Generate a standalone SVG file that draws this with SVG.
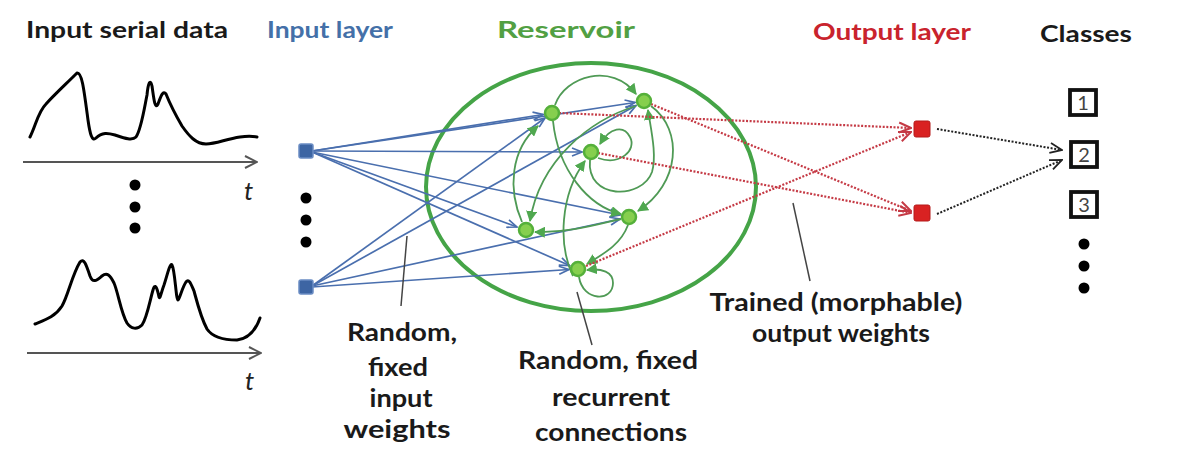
<svg xmlns="http://www.w3.org/2000/svg" width="1188" height="468" viewBox="0 0 1188 468">
<style>
.lbl{font-family:Lato,"Liberation Sans",sans-serif;font-weight:700;fill:#1a1a1a}
.hdr{font-family:Lato,"Liberation Sans",sans-serif;font-weight:700;font-size:23px}
.ax{stroke:#555;stroke-width:2;fill:none}
.wave{stroke:#000;stroke-width:3;fill:none;stroke-linecap:round;stroke-linejoin:round}
.blue{stroke:#4a6fae;stroke-width:1.7;fill:none}
.grn{stroke:#4f9a55;stroke-width:1.8;fill:none}
.red{stroke:#c53a45;stroke-width:2.2;fill:none;stroke-dasharray:2 1.6}
.blk{stroke:#222;stroke-width:2;fill:none;stroke-dasharray:2 1.6}
.ptr{stroke:#444;stroke-width:1.5}
.rn{fill:#86cf4e;stroke:#55b03a;stroke-width:2.5}
.dot{fill:#000}
.cls rect{fill:#fff;stroke:#111;stroke-width:3.8}
.cls text{font-family:Lato,"Liberation Sans",sans-serif;font-size:20px;fill:#444;text-anchor:middle}
</style>
<defs>
<marker id="mb" viewBox="0 0 12 10" refX="11" refY="5" markerWidth="12" markerHeight="10" markerUnits="userSpaceOnUse" orient="auto"><path d="M1,1 L11,5 L1,9" fill="none" stroke="#4a6fae" stroke-width="1.7"/></marker>
<marker id="mg" viewBox="0 0 10 10" refX="9" refY="5" markerWidth="11" markerHeight="11" markerUnits="userSpaceOnUse" orient="auto"><path d="M0,0 L10,5 L0,10 Z" fill="#4fa84f"/></marker>
<marker id="mr" viewBox="0 0 14 12" refX="13" refY="6" markerWidth="14" markerHeight="12" markerUnits="userSpaceOnUse" orient="auto"><path d="M1,1 L13,6 L1,11" fill="none" stroke="#c53a45" stroke-width="2"/></marker>
<marker id="mk" viewBox="0 0 14 12" refX="13" refY="6" markerWidth="14" markerHeight="12" markerUnits="userSpaceOnUse" orient="auto"><path d="M1,1 L13,6 L1,11" fill="none" stroke="#222" stroke-width="1.8"/></marker>
<marker id="ma" viewBox="0 0 14 14" refX="13" refY="7" markerWidth="14" markerHeight="14" markerUnits="userSpaceOnUse" orient="auto"><path d="M1,1 L13,7 L1,13" fill="none" stroke="#555" stroke-width="2"/></marker>
</defs>
<rect width="1188" height="468" fill="#fff"/>

<g id="headers">
<text class="hdr" x="26" y="38" fill="#1a1a1a" textLength="202" lengthAdjust="spacingAndGlyphs">Input serial data</text>
<text class="hdr" x="267" y="38" fill="#4470a8" textLength="126" lengthAdjust="spacingAndGlyphs">Input layer</text>
<text class="hdr" x="497" y="38" fill="#52a043" textLength="138" lengthAdjust="spacingAndGlyphs">Reservoir</text>
<text class="hdr" x="813" y="40" fill="#c9232d" textLength="158" lengthAdjust="spacingAndGlyphs">Output layer</text>
<text class="hdr" x="1040" y="42" fill="#1a1a1a" textLength="92" lengthAdjust="spacingAndGlyphs">Classes</text>
</g>

<g id="input-data">
<path class="wave" d="M30,137 C36,125 38,112 46,104 C55,94 66,84 77,73 C82,72 84,90 88,120 C90,134 92,142 96,138 C102,132 108,133 115,135 C124,138 132,141 136,137 C141,130 144,110 147,95 C148,84 150,78 152,86 C154,100 155,110 158,104 C161,96 163,90 166,94 C170,104 175,114 182,126 C189,136 196,144 206,144 C216,144 226,139 240,137 C247,136 252,136 257,137"/>
<path class="ax" d="M23,162 L257,162" marker-end="url(#ma)"/>
<text x="244" y="200" font-family="Lato,'Liberation Sans',sans-serif" font-style="italic" font-size="26" fill="#222">t</text>
<circle class="dot" cx="135" cy="185" r="5.5"/>
<circle class="dot" cx="135" cy="207" r="5.5"/>
<circle class="dot" cx="135" cy="228" r="5.5"/>
<path class="wave" d="M35,324 C45,320 55,317 62,306 C68,296 72,275 80,262 C84,258 86,264 90,276 C93,284 97,280 102,276 C107,272 110,275 114,283 C118,292 121,313 127,323 C131,329 137,330 142,325 C147,318 150,300 153,290 C155,283 157,287 159,297 C160,300 161,293 164,285 C167,276 170,262 172,265 C175,270 176,300 178,300 C180,298 182,288 186,282 C189,278 191,284 194,291 C197,302 201,318 207,329 C213,338 224,340 237,340 C248,339 255,332 260,318"/>
<path class="ax" d="M27,353 L261,353" marker-end="url(#ma)"/>
<text x="245" y="390" font-family="Lato,'Liberation Sans',sans-serif" font-style="italic" font-size="26" fill="#222">t</text>
</g>

<g id="reservoir-boundary">
<ellipse cx="591" cy="187" rx="165" ry="124" fill="none" stroke="#45a447" stroke-width="4"/>
</g>

<g id="connectors">
<path class="blue" d="M312,151 L543,114.5" marker-end="url(#mb)"/>
<path class="blue" d="M312,151 L635,102.5" marker-end="url(#mb)"/>
<path class="blue" d="M312,151 L582,152" marker-end="url(#mb)"/>
<path class="blue" d="M312,152 L620,215" marker-end="url(#mb)"/>
<path class="blue" d="M312,152 L517,227" marker-end="url(#mb)"/>
<path class="blue" d="M312,152 L569.5,265.5" marker-end="url(#mb)"/>
<path class="blue" d="M312,286 L545,118" marker-end="url(#mb)"/>
<path class="blue" d="M312,286 L636,105.5" marker-end="url(#mb)"/>
<path class="blue" d="M312,286 L620,219" marker-end="url(#mb)"/>
<path class="blue" d="M312,287 L569,269.5" marker-end="url(#mb)"/>
<path class="grn" d="M555,105 C565,76 612,62 636,94" marker-end="url(#mg)"/>
<path class="grn" d="M522,222 C508,190 510,150 538,126" marker-end="url(#mg)"/>
<path class="grn" d="M636,106 C590,120 540,160 530,221" marker-end="url(#mg)"/>
<path class="grn" d="M553,121 C558,170 588,206 621,214" marker-end="url(#mg)"/>
<path class="grn" d="M651,106 C684,130 680,184 638,211" marker-end="url(#mg)"/>
<path class="grn" d="M590,160 C586,200 642,200 652,172 C657,155 651,130 648,110" marker-end="url(#mg)"/>
<path class="grn" d="M598,158 C620,166 637,150 630,137 C624,125 610,127 600,144" marker-end="url(#mg)"/>
<path class="grn" d="M573,276 C558,245 560,195 585,161" marker-end="url(#mg)"/>
<path class="grn" d="M621,219 C595,225 568,233 535,232" marker-end="url(#mg)"/>
<path class="grn" d="M628,225 C621,244 605,253 587,264" marker-end="url(#mg)"/>
<path class="grn" d="M579,277 C583,302 613,302 613,283 C613,272 602,268 587,270" marker-end="url(#mg)"/>
<path class="red" d="M559,113 L911,128" marker-end="url(#mr)"/>
<path class="red" d="M651,104 L911,211" marker-end="url(#mr)"/>
<path class="red" d="M598,153 L911,213" marker-end="url(#mr)"/>
<path class="red" d="M586,266 L911,132" marker-end="url(#mr)"/>
<path class="blk" d="M937,129 L1062,150" marker-end="url(#mk)"/>
<path class="blk" d="M937,214 L1062,160" marker-end="url(#mk)"/>
<line class="ptr" x1="407" y1="236" x2="401" y2="306"/>
<line class="ptr" x1="577" y1="292" x2="592" y2="345"/>
<line class="ptr" x1="793" y1="203" x2="810" y2="281"/>
</g>

<g id="input-layer">
<rect x="299" y="144" width="14" height="14" rx="2" fill="#3d65a3" stroke="#6a8cc4" stroke-width="1.5"/>
<circle class="dot" cx="306" cy="198" r="5.5"/>
<circle class="dot" cx="306" cy="220" r="5.5"/>
<circle class="dot" cx="306" cy="242" r="5.5"/>
<rect x="299" y="280" width="14" height="14" rx="2" fill="#3d65a3" stroke="#6a8cc4" stroke-width="1.5"/>
</g>

<g id="reservoir-nodes">
<circle class="rn" cx="552" cy="113" r="7"/>
<circle class="rn" cx="644" cy="101" r="7"/>
<circle class="rn" cx="591" cy="152" r="7"/>
<circle class="rn" cx="629" cy="217" r="7"/>
<circle class="rn" cx="526" cy="230" r="7"/>
<circle class="rn" cx="578" cy="269" r="7"/>
</g>

<g id="output-layer">
<rect x="914" y="121" width="16" height="16" rx="2" fill="#d92222" stroke="#b51b1b" stroke-width="1"/>
<rect x="914" y="205" width="16" height="16" rx="2" fill="#d92222" stroke="#b51b1b" stroke-width="1"/>
</g>

<g id="classes" class="cls">
<rect x="1070" y="90" width="26" height="25"/>
<text x="1083" y="110">1</text>
<rect x="1071" y="142" width="26" height="25"/>
<text x="1084" y="162">2</text>
<rect x="1071" y="192" width="26" height="25"/>
<text x="1084" y="212">3</text>
<circle class="dot" cx="1084" cy="244" r="5.5"/>
<circle class="dot" cx="1084" cy="266" r="5.5"/>
<circle class="dot" cx="1084" cy="288" r="5.5"/>
</g>

<g id="labels" class="lbl" font-size="25" text-anchor="middle">
<text x="402" y="341" textLength="110" lengthAdjust="spacingAndGlyphs">Random,</text>
<text x="398" y="376" textLength="60" lengthAdjust="spacingAndGlyphs">fixed</text>
<text x="401" y="407" textLength="63" lengthAdjust="spacingAndGlyphs">input</text>
<text x="397" y="438" textLength="107" lengthAdjust="spacingAndGlyphs">weights</text>
<text x="608" y="369" textLength="180" lengthAdjust="spacingAndGlyphs">Random, fixed</text>
<text x="611" y="406" textLength="118" lengthAdjust="spacingAndGlyphs">recurrent</text>
<text x="611" y="441" textLength="152" lengthAdjust="spacingAndGlyphs">connections</text>
<text x="836" y="311" textLength="253" lengthAdjust="spacingAndGlyphs">Trained (morphable)</text>
<text x="841" y="342" textLength="178" lengthAdjust="spacingAndGlyphs">output weights</text>
</g>
</svg>
